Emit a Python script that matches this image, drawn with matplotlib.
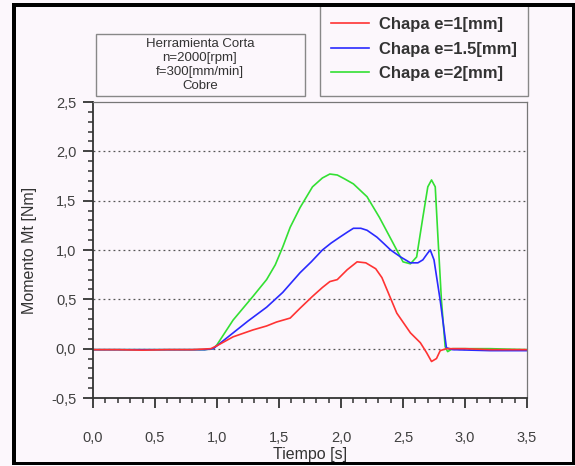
import matplotlib
matplotlib.use("Agg")
import matplotlib.pyplot as plt
from matplotlib.patches import Rectangle
from matplotlib.ticker import MultipleLocator, FuncFormatter

plt.rcParams["font.family"] = ["Liberation Sans", "DejaVu Sans"]

W, H = 575, 466
BG = "#fcf7fc"

# torque vs time
t_red = [0, 0.2, 0.4, 0.6, 0.8, 0.95, 1.0, 1.13, 1.29, 1.40, 1.48, 1.59, 1.67, 1.77,
         1.85, 1.91, 1.97, 2.05, 2.13, 2.20, 2.28, 2.33, 2.37, 2.45, 2.56, 2.64, 2.69,
         2.73, 2.77, 2.80, 2.85, 3.0, 3.2, 3.5]
y_red = [-0.01, -0.01, -0.015, -0.01, -0.01, 0.0, 0.03, 0.12, 0.19, 0.23, 0.27, 0.31,
         0.41, 0.53, 0.62, 0.68, 0.70, 0.80, 0.88, 0.87, 0.81, 0.72, 0.60, 0.36, 0.16,
         0.06, -0.04, -0.13, -0.10, -0.02, 0.0, 0.0, -0.01, -0.01]

t_blue = [0, 0.5, 0.9, 0.97, 1.05, 1.13, 1.25, 1.40, 1.53, 1.60, 1.67, 1.76, 1.85,
          1.92, 1.99, 2.05, 2.10, 2.16, 2.21, 2.29, 2.35, 2.40, 2.48, 2.56, 2.62, 2.66,
          2.70, 2.72, 2.75, 2.80, 2.85, 2.9, 3.2, 3.5]
y_blue = [-0.01, -0.01, -0.01, 0.0, 0.08, 0.16, 0.28, 0.42, 0.57, 0.67, 0.77, 0.88,
          1.00, 1.07, 1.13, 1.18, 1.22, 1.22, 1.20, 1.13, 1.06, 1.00, 0.93, 0.87, 0.87,
          0.90, 0.97, 1.00, 0.90, 0.49, 0.01, -0.01, -0.02, -0.02]

t_green = [0, 0.5, 0.9, 0.97, 1.0, 1.13, 1.29, 1.40, 1.47, 1.53, 1.59, 1.67, 1.77,
           1.85, 1.91, 1.97, 2.03, 2.10, 2.21, 2.31, 2.42, 2.50, 2.56, 2.61, 2.66, 2.70,
           2.73, 2.76, 2.78, 2.81, 2.84, 2.86, 2.9, 3.2, 3.5]
y_green = [-0.01, -0.01, -0.01, 0.0, 0.04, 0.29, 0.53, 0.70, 0.85, 1.03, 1.23, 1.43,
           1.64, 1.73, 1.77, 1.76, 1.72, 1.67, 1.54, 1.33, 1.07, 0.88, 0.86, 0.93, 1.33,
           1.64, 1.71, 1.64, 1.17, 0.49, 0.02, -0.03, 0.0, 0.0, -0.01]

labels = ["Chapa e=1[mm]", "Chapa e=1.5[mm]", "Chapa e=2[mm]"]
colors = ["#ff3333", "#2a2aff", "#33e033"]
grid_levels = [0.0, 0.5, 1.0, 1.5, 2.0]
info_text = "Herramienta Corta\nn=2000[rpm]\nf=300[mm/min]\nCobre"


def px_rect(fig, x0, y0, x1, y1, **kw):
    # rectangle given in image pixels (origin top-left)
    r = Rectangle((x0 / W, 1 - y1 / H), (x1 - x0) / W, (y1 - y0) / H,
                  transform=fig.transFigure, **kw)
    fig.add_artist(r)
    return r


fig = plt.figure(figsize=(W / 100, H / 100), dpi=100, facecolor=BG)
ax = fig.add_axes([93 / W, 1 - 398 / H, (527 - 93) / W, (398 - 102) / H])
ax.set_facecolor(BG)

lines = {}
lines[2], = ax.plot(t_green, y_green, color=colors[2], lw=1.2)
lines[1], = ax.plot(t_blue, y_blue, color=colors[1], lw=1.2)
lines[0], = ax.plot(t_red, y_red, color=colors[0], lw=1.2)

for g in grid_levels:
    ax.axhline(g, color="#555555", lw=0.9, ls=(0, (1.5, 2.5)), zorder=0)

ax.set_xlim(0, 3.5)
ax.set_ylim(-0.5, 2.5)
ax.xaxis.set_major_locator(MultipleLocator(0.5))
ax.xaxis.set_minor_locator(MultipleLocator(0.1))
ax.yaxis.set_major_locator(MultipleLocator(0.5))
ax.yaxis.set_minor_locator(MultipleLocator(0.1))
comma = FuncFormatter(lambda v, p: f"{v:.1f}".replace(".", ","))
ax.xaxis.set_major_formatter(comma)
ax.yaxis.set_major_formatter(comma)
ax.tick_params(which="major", length=7, width=1.3, color="#333333",
               labelsize=10.5, labelcolor="#404040")
ax.tick_params(which="minor", length=3.5, width=1.1, color="#333333")
ax.tick_params(axis="x", pad=17)
ax.tick_params(axis="y", pad=5)

for side in ("left", "bottom"):
    ax.spines[side].set_color("#333333")
    ax.spines[side].set_linewidth(1.3)
for side in ("top", "right"):
    ax.spines[side].set_color("#777777")
    ax.spines[side].set_linewidth(0.9)

ax.set_xlabel("Tiempo [s]", fontsize=11.5, color="#333333", labelpad=1)
ax.set_ylabel("Momento Mt [Nm]", fontsize=11.5, color="#333333", labelpad=10)

# info box
px_rect(fig, 96, 34, 305, 96, fill=False, edgecolor="#888888", lw=1.0)
fig.text(200 / W, 1 - 65 / H, info_text, ha="center", va="center",
         fontsize=9.5, color="#333333", linespacing=1.2)

# legend box
px_rect(fig, 320, 5, 528, 96, fill=False, edgecolor="#888888", lw=1.0)
fig.legend([lines[0], lines[1], lines[2]], labels, loc="upper left",
           bbox_to_anchor=(316 / W, 1 - 2 / H), frameon=False,
           prop={"weight": "bold", "size": 12}, handlelength=2.3,
           labelspacing=0.58, handletextpad=0.6, labelcolor="#333333")

# black frame around the picture
px_rect(fig, 12, 3, 16, 465, color="black", lw=0)
px_rect(fig, 12, 3, 575, 7, color="black", lw=0)
px_rect(fig, 572, 3, 575, 465, color="black", lw=0)
px_rect(fig, 12, 462, 575, 465, color="black", lw=0)

fig.savefig("out.png", dpi=100, facecolor=BG)
